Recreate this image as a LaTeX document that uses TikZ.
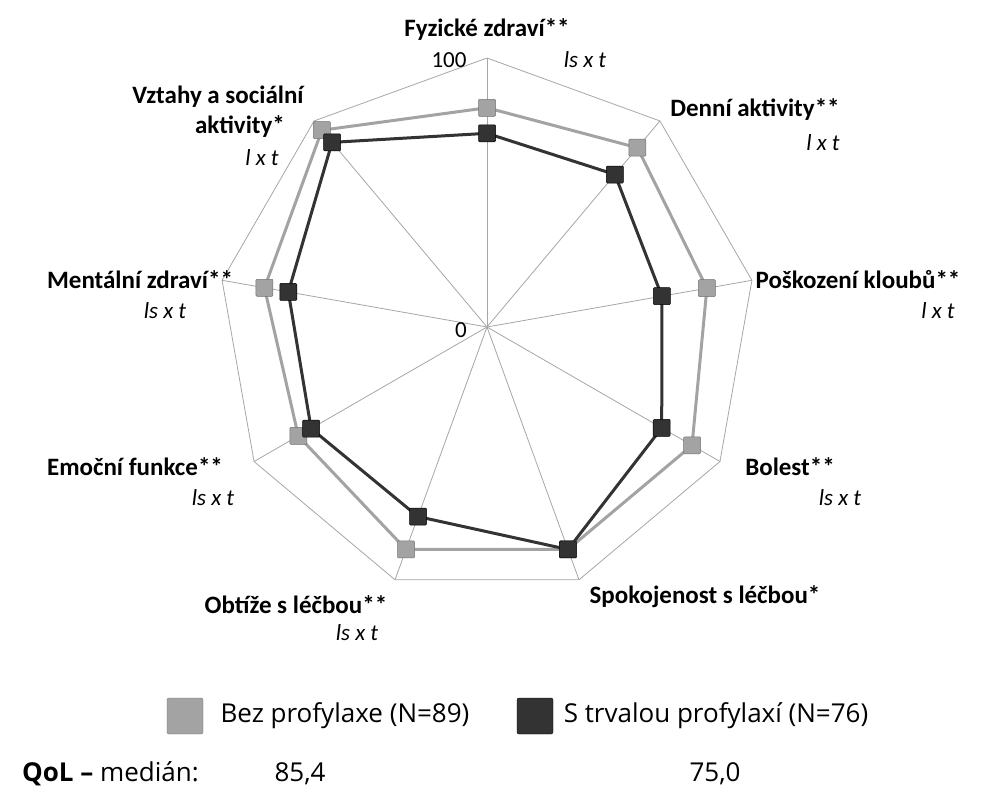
\documentclass[tikz,border=0pt]{standalone}
\usepackage{fontspec}
\usetikzlibrary{calc}
\setmainfont{Carlito}
\newfontfamily\legfont{Open Sans}
\begin{document}
\begin{tikzpicture}[x=1pt,y=1pt,
  lbl/.style={font=\fontsize{25}{28}\selectfont\bfseries,inner sep=0},
  sub/.style={font=\fontsize{23}{26}\selectfont\itshape,inner sep=0},
  leg/.style={font=\legfont\fontsize{26}{30}\selectfont,inner sep=0},
  grid/.style={draw=gray!70,line width=0.8pt},
  lightline/.style={draw=lightc,line width=3pt,line join=round},
  darkline/.style={draw=darkc,line width=3pt,line join=round},
  lm/.style={fill=lightc,draw=lightc!70!black,line width=0.5pt,minimum size=17pt,inner sep=0,rounded corners=1pt},
  dm/.style={fill=darkc,draw=black,line width=0.5pt,minimum size=17pt,inner sep=0,rounded corners=1pt}]
\definecolor{lightc}{HTML}{A3A3A3}
\definecolor{darkc}{HTML}{333333}
\useasboundingbox (0,0) rectangle (1001,-800);
\coordinate (C) at (487,-327);
% grid
\foreach \k in {0,...,8} {
  \pgfmathsetmacro\a{90-40*\k}
  \coordinate (V\k) at ($(C)+(\a:269)$);
  \draw[grid] (C) -- (V\k);
}
\draw[grid] (V0)--(V1)--(V2)--(V3)--(V4)--(V5)--(V6)--(V7)--(V8)--cycle;
% data
\def\lightvals{{81.5,87,83,88,88,88,81,84,95.5}}
\def\darkvals{{72,74,66,75,88,75,75.5,75,89.6}}
\foreach \k in {0,...,8} {
  \pgfmathsetmacro\a{90-40*\k}
  \pgfmathsetmacro\l{\lightvals[\k]*2.69}
  \pgfmathsetmacro\d{\darkvals[\k]*2.69}
  \coordinate (L\k) at ($(C)+(\a:\l)$);
  \coordinate (D\k) at ($(C)+(\a:\d)$);
}
\draw[lightline] (L0)--(L1)--(L2)--(L3)--(L4)--(L5)--(L6)--(L7)--(L8)--cycle;
\draw[darkline] (D0)--(D1)--(D2)--(D3)--(D4)--(D5)--(D6)--(D7)--(D8)--cycle;
\foreach \k in {0,...,8} {
  \node[lm] (lm\k) at (L\k) {};
  \node[dm] (dm\k) at (D\k) {};
}
% scale labels
\node[font=\fontsize{23}{26}\selectfont,inner sep=0] (t100) at (449,-60) {100};
\node[font=\fontsize{23}{26}\selectfont,inner sep=0] (t0) at (461,-330) {0};
% axis labels
\node[lbl] (a0) at (487,-30) {Fyzické zdraví**};
\node[sub] (s0) at (585,-60) {ls x t};
\node[lbl] (a1) at (755,-110) {Denní aktivity**};
\node[sub] (s1) at (823,-143) {l x t};
\node[lbl] (a2) at (858,-280) {Poškození kloubů**};
\node[sub] (s2) at (938,-311) {l x t};
\node[lbl] (a3) at (790,-467) {Bolest**};
\node[sub] (s3) at (840,-498) {ls x t};
\node[lbl] (a4) at (705,-597) {Spokojenost s léčbou*};
\node[lbl] (a5) at (296,-605) {Obtíže s léčbou**};
\node[sub] (s5) at (357,-633) {ls x t};
\node[lbl] (a6) at (135,-467) {Emoční funkce**};
\node[sub] (s6) at (213,-498) {ls x t};
\node[lbl] (a7) at (140,-280) {Mentální zdraví**};
\node[sub] (s7) at (165,-311) {ls x t};
\node[lbl] (a8) at (218,-97) {Vztahy a sociální};
\node[lbl] (a8b) at (240,-127) {aktivity*};
\node[sub] (s8) at (262,-158) {l x t};
% legend
\node[fill=lightc,draw=lightc!70!black,minimum size=36pt,inner sep=0,rounded corners=2pt] (k1) at (185,-716) {};
\node[leg] (k1t) at (345,-716) {Bez profylaxe (N=89)};
\node[fill=darkc,draw=black,minimum size=36pt,inner sep=0,rounded corners=2pt] (k2) at (535,-716) {};
\node[leg] (k2t) at (716,-716) {S trvalou profylaxí (N=76)};
\node[leg,anchor=west] (q) at (22,-774) {\bfseries QoL –\mdseries{} medián:};
\node[leg] (q1) at (300,-774) {85,4};
\node[leg] (q2) at (715,-774) {75,0};
\end{tikzpicture}
\end{document}
